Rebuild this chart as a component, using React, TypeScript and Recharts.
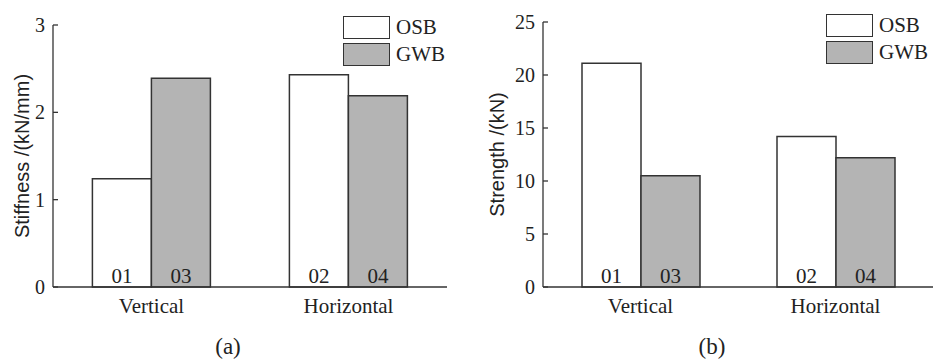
import { BarChart, Bar, XAxis, YAxis, LabelList } from 'recharts'

const categories = ['Vertical', 'Horizontal']
const stiffnessOSB = [1.24, 2.43]
const stiffnessGWB = [2.39, 2.19]
const strengthOSB = [21.1, 14.2]
const strengthGWB = [10.5, 12.2]
const osbIds = ['01', '02']
const gwbIds = ['03', '04']
const stiffnessTicks = [0, 1, 2, 3]
const strengthTicks = [0, 5, 10, 15, 20, 25]
const seriesNames = ['OSB', 'GWB']

const stiffnessData = categories.map((c, i) => ({
  cat: c,
  OSB: stiffnessOSB[i],
  GWB: stiffnessGWB[i],
  osbId: osbIds[i],
  gwbId: gwbIds[i],
}))
const strengthData = categories.map((c, i) => ({
  cat: c,
  OSB: strengthOSB[i],
  GWB: strengthGWB[i],
  osbId: osbIds[i],
  gwbId: gwbIds[i],
}))

const serif = '"Liberation Serif", "Times New Roman", serif'
const sans = '"Liberation Sans", Arial, sans-serif'
const ink = '#222'
const edge = '#333'
const gray = '#b4b4b4'
const fills = ['#fff', gray]

const Y_MARGIN = 8

function YTick(props: any) {
  const { x, y, payload } = props
  const axisX = x + Y_MARGIN
  return (
    <g>
      <line x1={axisX} x2={axisX + 5} y1={y} y2={y} stroke={edge} strokeWidth={1.3} />
      <text x={x} y={y} textAnchor="end" dominantBaseline="central" fill={ink} fontFamily={serif} fontSize={20}>
        {payload.value}
      </text>
    </g>
  )
}

// legend drawn as plain html so it doesn't steal plot space
function LegendBoxes({ left, top }: { left: number; top: number }) {
  return (
    <div style={{ position: 'absolute', left, top, fontFamily: serif, fontSize: 21, color: ink }}>
      {seriesNames.map((name, i) => (
        <div key={name} style={{ display: 'flex', alignItems: 'center', height: 26, marginBottom: 1 }}>
          <div
            style={{
              width: 45,
              height: 21,
              background: fills[i],
              border: `1.5px solid ${edge}`,
              marginRight: 6,
            }}
          />
          <span style={{ lineHeight: '21px' }}>{name}</span>
        </div>
      ))}
    </div>
  )
}

function Panel(props: {
  data: any[]
  width: number
  yWidth: number
  top: number
  right: number
  domain: [number, number]
  ticks: number[]
  yLabel: string
  labelX: number
}) {
  const { data, width, yWidth, top, right, domain, ticks, yLabel, labelX } = props
  return (
    <BarChart
      width={width}
      height={360}
      data={data}
      margin={{ top, right, left: 0, bottom: 0 }}
      barCategoryGap="20%"
      barGap={0}
    >
      <XAxis
        dataKey="cat"
        height={73}
        tickLine={false}
        tickSize={0}
        tickMargin={11}
        axisLine={{ stroke: edge, strokeWidth: 1.5 }}
        tick={{ fill: ink, fontFamily: serif, fontSize: 21 }}
      />
      <YAxis
        width={yWidth}
        domain={domain}
        ticks={ticks}
        interval={0}
        tickLine={false}
        tickSize={0}
        tickMargin={Y_MARGIN}
        axisLine={{ stroke: edge, strokeWidth: 1.3 }}
        tick={<YTick />}
        label={(lp: any) => {
          const cy = (lp.viewBox?.y ?? top) + (lp.viewBox?.height ?? 262) / 2
          return (
            <text
              x={labelX}
              y={cy}
              transform={`rotate(-90 ${labelX} ${cy})`}
              textAnchor="middle"
              dominantBaseline="central"
              fill={ink}
              fontFamily={sans}
              fontSize={20}
            >
              {yLabel}
            </text>
          )
        }}
      />
      <Bar dataKey="OSB" fill={fills[0]} stroke={edge} strokeWidth={1.5} isAnimationActive={false}>
        <LabelList dataKey="osbId" position="insideBottom" offset={4} fill={ink} fontFamily={serif} fontSize={21} />
      </Bar>
      <Bar dataKey="GWB" fill={fills[1]} stroke={edge} strokeWidth={1.5} isAnimationActive={false}>
        <LabelList dataKey="gwbId" position="insideBottom" offset={4} fill={ink} fontFamily={serif} fontSize={21} />
      </Bar>
    </BarChart>
  )
}

export default function App() {
  return (
    <div style={{ position: 'absolute', left: 0, top: 0, width: 933, height: 360, background: '#fff', overflow: 'hidden' }}>
      <div style={{ position: 'absolute', left: 0, top: 0 }}>
        <Panel
          data={stiffnessData}
          width={470}
          yWidth={53}
          top={25}
          right={23}
          domain={[0, 3]}
          ticks={stiffnessTicks}
          yLabel="Stiffness /(kN/mm)"
          labelX={22}
        />
      </div>
      <div style={{ position: 'absolute', left: 460, top: 0 }}>
        <Panel
          data={strengthData}
          width={473}
          yWidth={83}
          top={22}
          right={0}
          domain={[0, 25]}
          ticks={strengthTicks}
          yLabel="Strength /(kN)"
          labelX={37}
        />
      </div>
      <LegendBoxes left={343} top={14} />
      <LegendBoxes left={826} top={12} />
      <div style={{ position: 'absolute', left: 178, width: 100, top: 334, textAlign: 'center', fontFamily: serif, fontSize: 23, color: ink }}>
        (a)
      </div>
      <div style={{ position: 'absolute', left: 662, width: 100, top: 334, textAlign: 'center', fontFamily: serif, fontSize: 23, color: ink }}>
        (b)
      </div>
    </div>
  )
}
